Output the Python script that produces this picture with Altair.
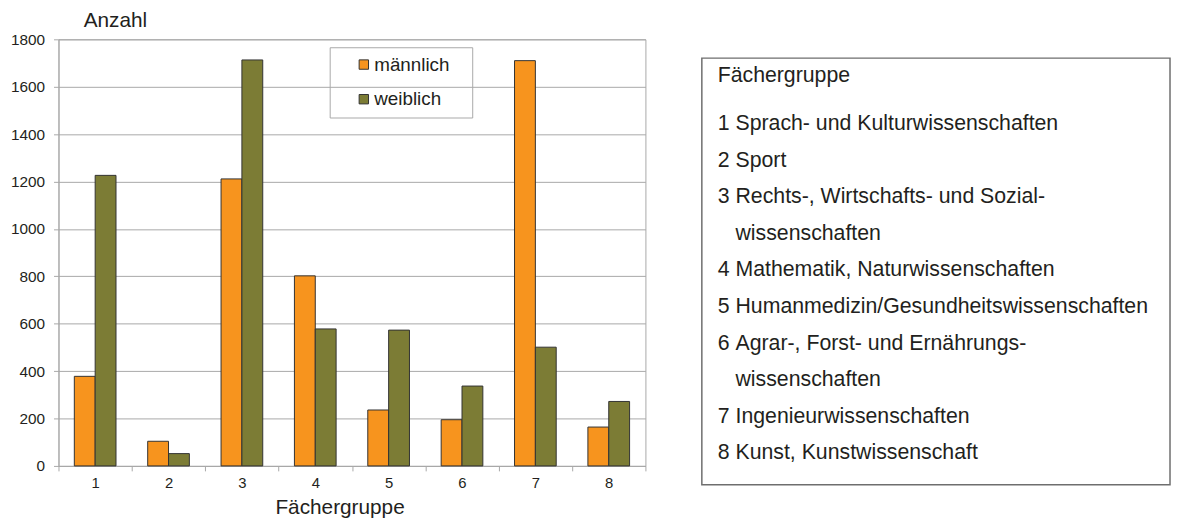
import altair as alt
import pandas as pd

# ---- data ----
groups = ["1", "2", "3", "4", "5", "6", "7", "8"]
maennlich = [378, 104, 1211, 802, 236, 195, 1710, 164]
weiblich = [1226, 52, 1713, 578, 573, 337, 501, 272]
series = ["männlich", "weiblich"]
colors = ["#F7941E", "#7C7C35"]
y_ticks = [0, 200, 400, 600, 800, 1000, 1200, 1400, 1600, 1800]

box_title = "Fächergruppe"
box_numbers = ["1", "2", "3", "", "4", "5", "6", "", "7", "8"]
box_texts = [
    "Sprach- und Kulturwissenschaften",
    "Sport",
    "Rechts-, Wirtschafts- und Sozial-",
    "wissenschaften",
    "Mathematik, Naturwissenschaften",
    "Humanmedizin/Gesundheitswissenschaften",
    "Agrar-, Forst- und Ernährungs-",
    "wissenschaften",
    "Ingenieurwissenschaften",
    "Kunst, Kunstwissenschaft",
]

rows = []
for g, m, w in zip(groups, maennlich, weiblich):
    rows.append({"Fächergruppe": g, "Geschlecht": series[0], "Anzahl": m})
    rows.append({"Fächergruppe": g, "Geschlecht": series[1], "Anzahl": w})
df = pd.DataFrame(rows)

box_df = pd.DataFrame({
    "row": list(range(1, len(box_texts) + 1)),
    "nr": box_numbers,
    "text": box_texts,
})

FONT = "Liberation Sans"
TXT = "#231F20"
GRID = "#A8A8A8"
BLANK = "\u2800"

bars = alt.Chart(df).mark_bar(stroke="#333333", strokeWidth=1).encode(
    x=alt.X(
        "Fächergruppe:N",
        sort=groups,
        scale=alt.Scale(paddingInner=0, paddingOuter=0),
        axis=alt.Axis(
            title="Fächergruppe",
            titleFontSize=21,
            titleFontWeight="normal",
            titleColor=TXT,
            titleX=284,
            titleY=42,
            titleAlign="center",
            titleBaseline="middle",
            labelAngle=0,
            labelFontSize=15,
            labelColor=TXT,
            labelPadding=5,
            tickBand="extent",
            tickSize=5,
            tickColor=GRID,
            domainColor=GRID,
            grid=False,
        ),
    ),
    xOffset=alt.XOffset(
        "Geschlecht:N",
        sort=series,
        scale=alt.Scale(paddingInner=0, paddingOuter=0.76),
    ),
    y=alt.Y(
        "Anzahl:Q",
        scale=alt.Scale(domain=[0, 1800], nice=False),
        axis=alt.Axis(
            values=y_ticks,
            format="d",
            title="Anzahl",
            titleAngle=0,
            titleFontSize=21,
            titleFontWeight="normal",
            titleColor=TXT,
            titleX=25,
            titleY=-19,
            titleAlign="left",
            titleBaseline="middle",
            labelFontSize=15.5,
            labelColor=TXT,
            labelPadding=9,
            tickSize=5,
            tickColor=GRID,
            domainColor=GRID,
            gridColor=GRID,
            gridWidth=1,
        ),
    ),
    color=alt.Color(
        "Geschlecht:N",
        sort=series,
        scale=alt.Scale(domain=series, range=colors),
        legend=alt.Legend(
            title=None,
            orient="none",
            legendX=274,
            legendY=8,
            strokeColor=GRID,
            padding=8,
            symbolType="square",
            symbolSize=90,
            symbolStrokeColor="#333333",
            symbolStrokeWidth=1,
            symbolOffset=17,
            labelOffset=1,
            labelFontSize=19,
            labelColor=TXT,
            rowPadding=15,
            labelExpr="datum.label + '" + BLANK + "'",
        ),
    ),
).properties(
    width=593,
    height=431,
    view=alt.ViewBackground(stroke=GRID, strokeWidth=1),
)

yscale = alt.Scale(domain=[-0.816, 10.865], reverse=True, nice=False, zero=False)

box_base = alt.Chart(box_df)
nums = box_base.mark_text(align="left", baseline="middle", fontSize=21.5, color=TXT).encode(
    x=alt.value(16),
    y=alt.Y("row:Q", scale=yscale, axis=None),
    text="nr:N",
)
labels = box_base.mark_text(align="left", baseline="middle", fontSize=21.5, color=TXT).encode(
    x=alt.value(34),
    y=alt.Y("row:Q", scale=yscale, axis=None),
    text="text:N",
)
title_txt = alt.Chart(pd.DataFrame({"t": [box_title]})).mark_text(
    align="left", baseline="middle", fontSize=21.5, color=TXT
).encode(
    x=alt.value(16),
    y=alt.value(18),
    text="t:N",
)

box = alt.layer(nums, labels, title_txt).properties(
    width=473,
    height=431,
    view=alt.ViewBackground(stroke="#6E6E6E", strokeWidth=1.5),
)

# empty spacer so that the description box starts a little below the plot's top edge
spacer = alt.Chart(pd.DataFrame({"s": [0]})).mark_point(opacity=0).encode(
    x=alt.value(0), y=alt.value(0)
).properties(
    width=473,
    height=1,
    view=alt.ViewBackground(stroke="transparent"),
)

right = alt.vconcat(spacer, box, spacing=14)

chart = alt.hconcat(bars, right, spacing=52).properties(
    padding={"left": 2, "top": -2, "right": 0, "bottom": 0}
).configure(font=FONT)

chart.save("out.html", embed_options={"renderer": "svg", "actions": False})
